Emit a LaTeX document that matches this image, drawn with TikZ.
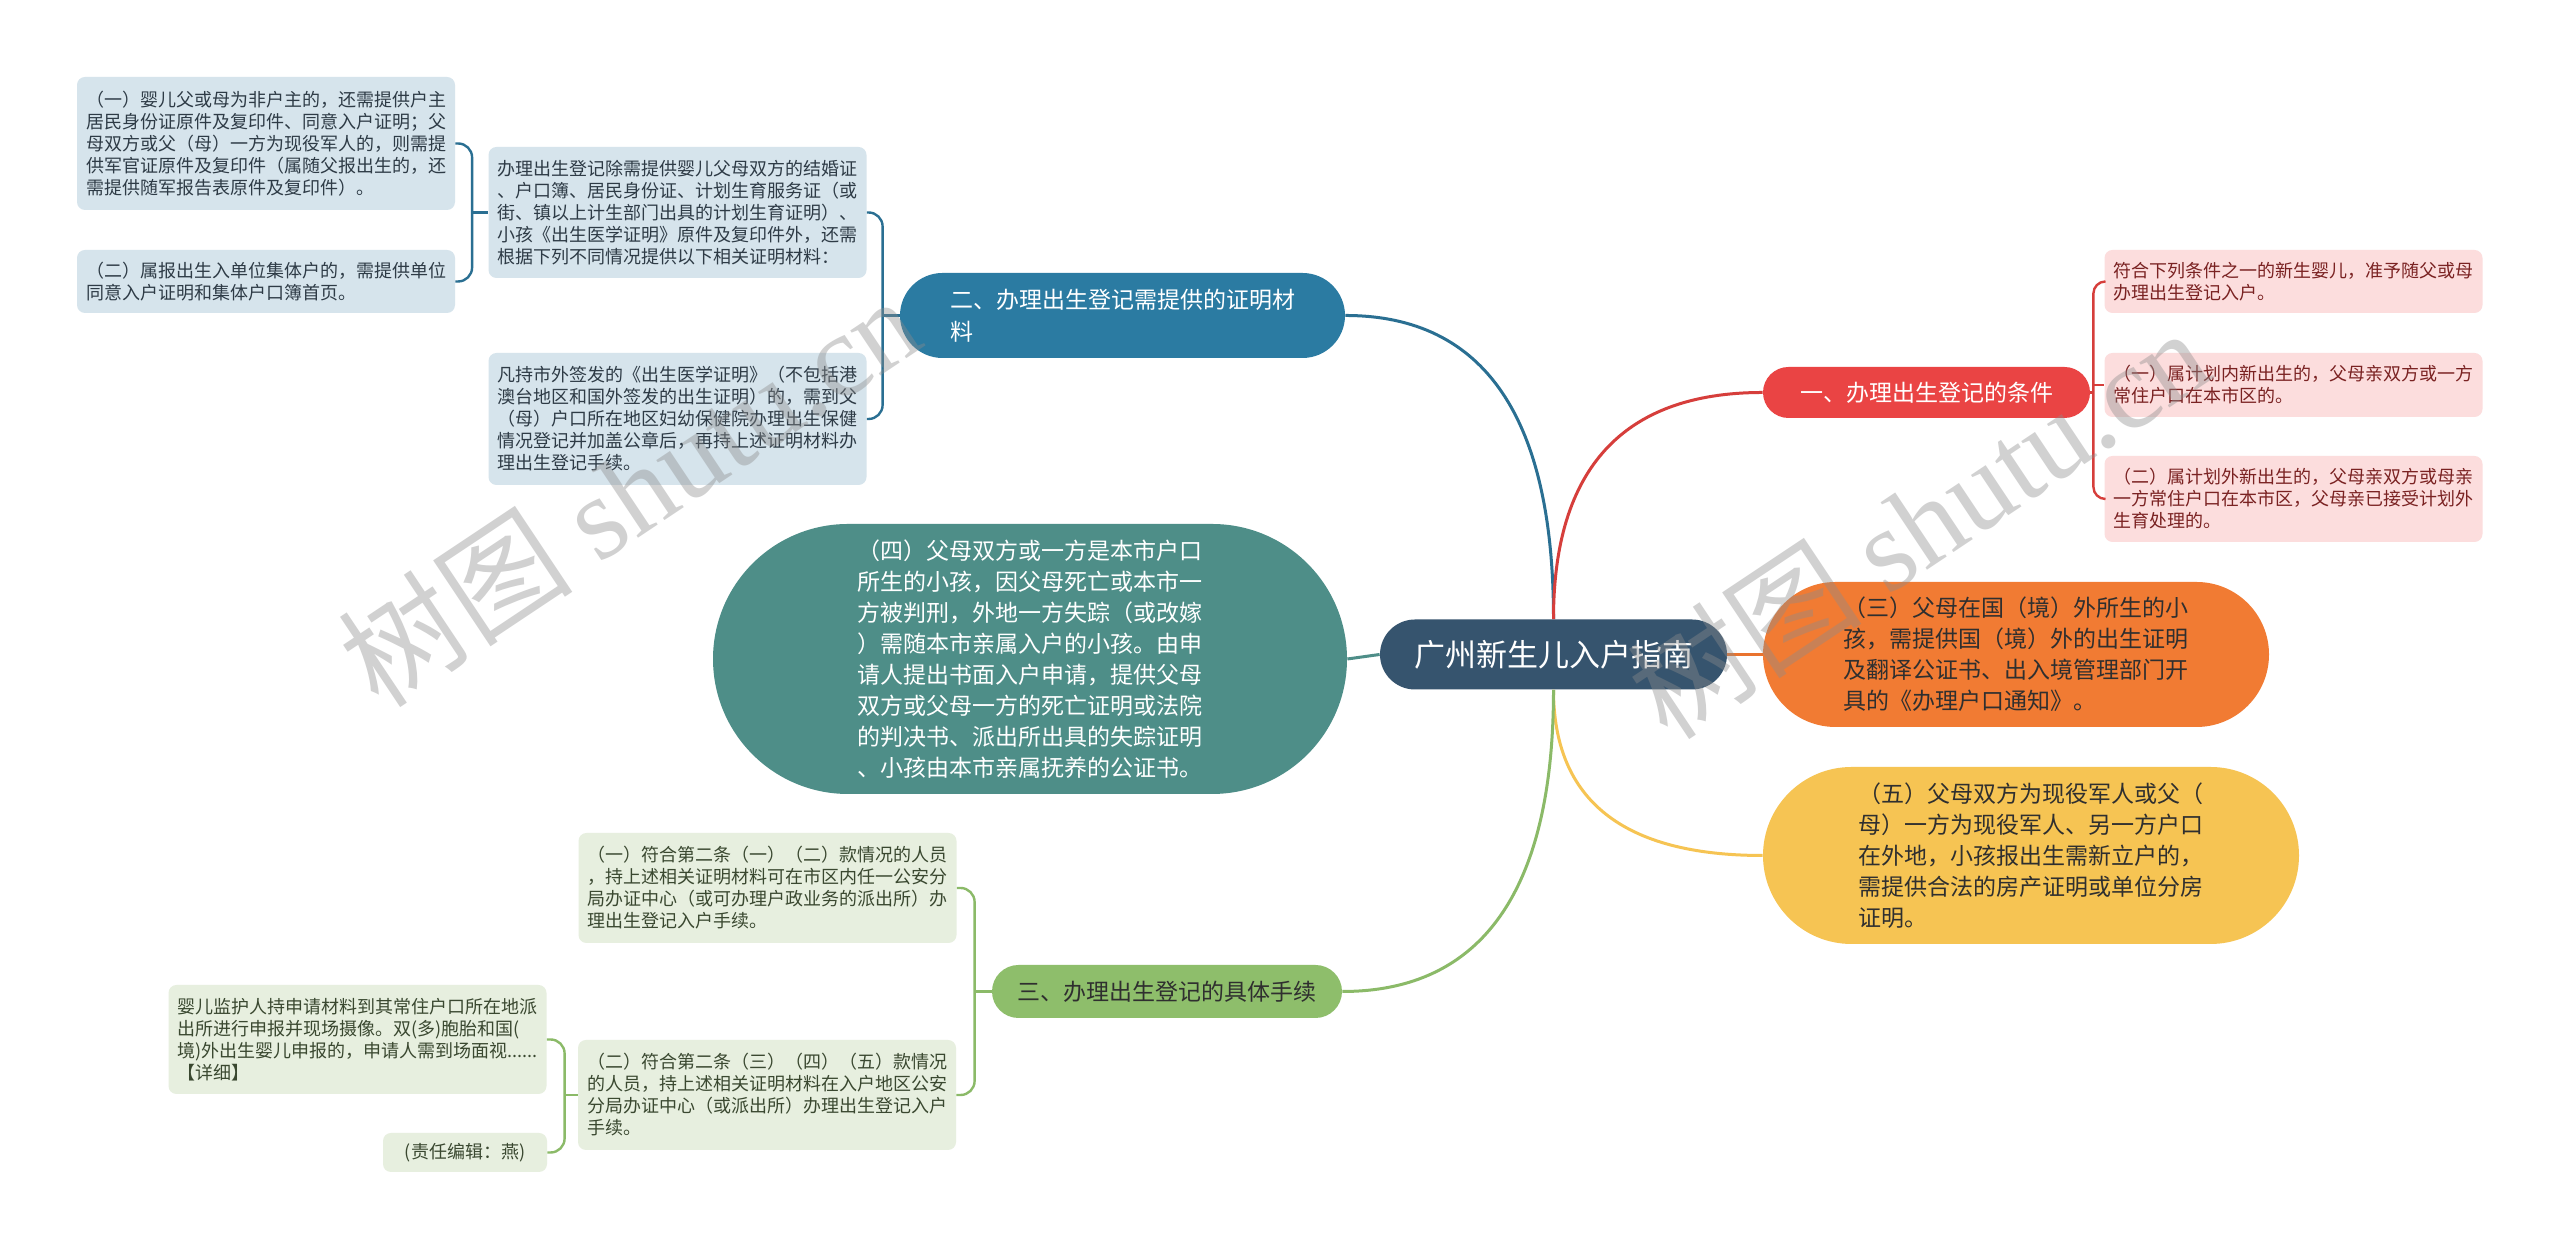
\documentclass[tikz,border=0pt]{standalone}
\usepackage{fontspec}
\setmainfont{Noto Sans CJK SC}
\newfontfamily\wmlatin{Liberation Serif}
\usepackage{tikz}
\usetikzlibrary{positioning,shapes.misc}
\definecolor{RootSlate}{HTML}{36546E}
\definecolor{BranchBlue}{HTML}{2B7BA2}
\definecolor{LineBlue}{HTML}{2A6F92}
\definecolor{BranchRed}{HTML}{EA4444}
\definecolor{LineRed}{HTML}{D63E3B}
\definecolor{PillOrange}{HTML}{F17B33}
\definecolor{LineOrange}{HTML}{E9732E}
\definecolor{PillYellow}{HTML}{F6C453}
\definecolor{PillTeal}{HTML}{4E8E88}
\definecolor{BranchGreen}{HTML}{8EBE6B}
\definecolor{LineGreen}{HTML}{8BBA68}
\definecolor{LeafBlue}{HTML}{D6E4EC}
\definecolor{LeafRed}{HTML}{FCDDDD}
\definecolor{LeafGreen}{HTML}{E7EFDF}
\definecolor{InkBlue}{HTML}{2E3B46}
\definecolor{InkRed}{HTML}{7A2222}
\definecolor{InkGreen}{HTML}{3A4830}
\definecolor{InkDark}{HTML}{2F2F2F}

\begin{document}
\begin{tikzpicture}[
    x=0.5pt, y=0.5pt,
    leaf/.style={rounded corners=4pt, align=left, inner sep=0pt, minimum width=189pt,
                 font=\fontsize{9}{11}\selectfont},
    bleaf/.style={leaf, fill=LeafBlue, text=InkBlue},
    rleaf/.style={leaf, fill=LeafRed, text=InkRed},
    gleaf/.style={leaf, fill=LeafGreen, text=InkGreen},
    pill/.style={rounded rectangle, align=left, inner sep=0pt},
    branch/.style={pill, font=\fontsize{11.5}{16}\selectfont},
    bigpill/.style={pill, font=\fontsize{11.5}{15.5}\selectfont},
    conn/.style={line width=1.5pt},
    brk/.style={line width=1.2pt, rounded corners=7pt},
    wm/.style={text=black!45, opacity=0.4, font=\fontsize{59}{60}\selectfont, rotate=33.7}
  ]

  \fill[white, use as bounding box] (0,0) rectangle (2560,1251);

  % Mitte
  \node[pill, fill=RootSlate, text=white, minimum width=173.5pt, minimum height=35pt,
        font=\fontsize{15.5}{18}\selectfont] (root) at (1553.5,596.5) {广州新生儿入户指南};

  % Hauptzweige
  \node[branch, fill=BranchBlue, text=white, minimum width=222.5pt, minimum height=42.5pt]
    (blueb) at (1122.5,935.5) {二、办理出生登记需提供的证明材\\料};
  \node[branch, fill=BranchRed, text=white, minimum width=163.5pt, minimum height=25.5pt]
    (redb) at (1926.5,858.5) {一、办理出生登记的条件};
  \node[branch, fill=BranchGreen, text=InkDark, minimum width=175pt, minimum height=26.5pt]
    (greenb) at (1167,259.5) {三、办理出生登记的具体手续};

  \node[bigpill, fill=PillOrange, text=InkDark, minimum width=253pt, minimum height=72.5pt]
    (orange) at (2016,596.5) {（三）父母在国（境）外所生的小\\孩，需提供国（境）外的出生证明\\及翻译公证书、出入境管理部门开\\具的《办理户口通知》。};
  \node[bigpill, fill=PillYellow, text=InkDark, minimum width=268pt, minimum height=88.5pt]
    (yellow) at (2031,395.5) {（五）父母双方为现役军人或父（\\母）一方为现役军人、另一方户口\\在外地，小孩报出生需新立户的，\\需提供合法的房产证明或单位分房\\证明。};
  \node[bigpill, fill=PillTeal, text=white, minimum width=317pt, minimum height=135pt]
    (teal) at (1030,592) {（四）父母双方或一方是本市户口\\所生的小孩，因父母死亡或本市一\\方被判刑，外地一方失踪（或改嫁\\）需随本市亲属入户的小孩。由申\\请人提出书面入户申请，提供父母\\双方或父母一方的死亡证明或法院\\的判决书、派出所出具的失踪证明\\、小孩由本市亲属抚养的公证书。};

  % Blaue Blaetter
  \node[bleaf, minimum height=65.5pt] (blueA) at (677.5,1038.5)
    {办理出生登记除需提供婴儿父母双方的结婚证\\、户口簿、居民身份证、计划生育服务证（或\\街、镇以上计生部门出具的计划生育证明）、\\小孩《出生医学证明》原件及复印件外，还需\\根据下列不同情况提供以下相关证明材料：};
  \node[bleaf, minimum height=66pt] (blueB) at (677.5,832)
    {凡持市外签发的《出生医学证明》（不包括港\\澳台地区和国外签发的出生证明）的，需到父\\（母）户口所在地区妇幼保健院办理出生保健\\情况登记并加盖公章后，再持上述证明材料办\\理出生登记手续。};
  \node[bleaf, minimum height=66.5pt] (blueL1) at (266,1107.5)
    {（一）婴儿父或母为非户主的，还需提供户主\\居民身份证原件及复印件、同意入户证明；父\\母双方或父（母）一方为现役军人的，则需提\\供军官证原件及复印件（属随父报出生的，还\\需提供随军报告表原件及复印件）。};
  \node[bleaf, minimum height=31.5pt] (blueL2) at (266,969.5)
    {（二）属报出生入单位集体户的，需提供单位\\同意入户证明和集体户口簿首页。};

  % Rote Blaetter
  \node[rleaf, minimum height=31.5pt] (redR1) at (2293.5,969.5)
    {符合下列条件之一的新生婴儿，准予随父或母\\办理出生登记入户。};
  \node[rleaf, minimum height=32pt] (redR2) at (2293.5,866)
    {（一）属计划内新出生的，父母亲双方或一方\\常住户口在本市区的。};
  \node[rleaf, minimum height=43pt] (redR3) at (2293.5,752)
    {（二）属计划外新出生的，父母亲双方或母亲\\一方常住户口在本市区，父母亲已接受计划外\\生育处理的。};

  % Gruene Blaetter
  \node[gleaf, minimum height=55pt] (greenG1) at (767.5,363)
    {（一）符合第二条（一）（二）款情况的人员\\，持上述相关证明材料可在市区内任一公安分\\局办证中心（或可办理户政业务的派出所）办\\理出生登记入户手续。};
  \node[gleaf, minimum height=55pt] (greenG2) at (767,156)
    {（二）符合第二条（三）（四）（五）款情况\\的人员，持上述相关证明材料在入户地区公安\\分局办证中心（或派出所）办理出生登记入户\\手续。};
  \node[gleaf, minimum height=54.5pt] (greenG3) at (357.5,211.5)
    {婴儿监护人持申请材料到其常住户口所在地派\\出所进行申报并现场摄像。双(多)胞胎和国(\\境)外出生婴儿申报的，申请人需到场面视......\\【详细】};
  \node[gleaf, minimum width=82pt, minimum height=19.5pt] (greenG4) at (465,98.5)
    {(责任编辑：燕)};

  % Verbindungen von der Mitte
  \draw[conn, LineBlue] (root.north) .. controls +(0,200) and +(140,0) .. (blueb.east);
  \draw[conn, LineRed] (root.north) .. controls +(0,150) and +(-140,0) .. (redb.west);
  \draw[conn, LineOrange] (root.east) -- (orange.west);
  \draw[conn, PillYellow] (root.south) .. controls +(0,-110) and +(-140,0) .. (yellow.west);
  \draw[conn, LineGreen] (root.south) .. controls +(0,-200) and +(140,0) .. (greenb.east);
  \draw[conn, PillTeal] (root.west) -- (teal.east);

  % Klammern
  \coordinate (bspine) at ([xshift=-8.5pt]blueb.west);
  \draw[brk, LineBlue] (blueA.east) -| (bspine) |- (blueB.east);
  \draw[brk, LineBlue] (bspine) -- (blueb.west);

  \coordinate (bspineL) at ([xshift=-8pt]blueA.west);
  \draw[brk, LineBlue] (blueL1.east) -| (bspineL) |- (blueL2.east);
  \draw[brk, LineBlue] (bspineL) -- (blueA.west);

  \coordinate (rspine) at ([xshift=1.5pt]redb.east);
  \draw[brk, LineRed, rounded corners=6pt] (redR1.west) -| (rspine) |- (redR3.west);
  \draw[brk, LineRed] (rspine |- redR2.west) -- (redR2.west);
  \draw[brk, LineRed] (redb.east) -- (rspine);

  \coordinate (gspine) at ([xshift=-8.5pt]greenb.west);
  \draw[brk, LineGreen] (greenG1.east) -| (gspine) |- (greenG2.east);
  \draw[brk, LineGreen] (gspine) -- (greenb.west);

  \coordinate (gspineL) at ([xshift=-6.5pt]greenG2.west);
  \draw[brk, LineGreen] (greenG3.east) -| (gspineL) |- (greenG4.east);
  \draw[brk, LineGreen] (gspineL) -- (greenG2.west);

  % Wasserzeichen
  \node[wm] (wmLeft) at (629,761) {树图 {\wmlatin shutu.cn}};
  \node[wm] (wmRight) at (1918,729) {树图 {\wmlatin shutu.cn}};

\end{tikzpicture}
\end{document}
